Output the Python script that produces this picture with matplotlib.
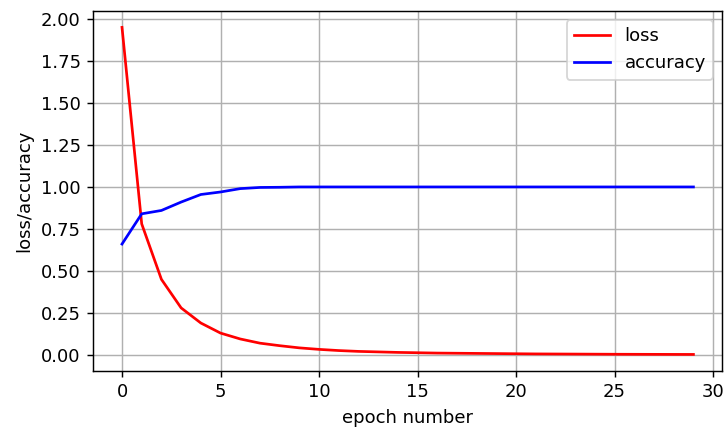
import numpy as np
import matplotlib.pyplot as plt

epochs = list(range(30))
loss = [1.95, 0.78, 0.45, 0.28, 0.19, 0.13, 0.095, 0.07, 0.055, 0.042,
        0.033, 0.026, 0.021, 0.018, 0.015, 0.013, 0.011, 0.010, 0.009, 0.008,
        0.007, 0.006, 0.0055, 0.005, 0.0045, 0.004, 0.0037, 0.0034, 0.0031, 0.0029]
accuracy = [0.66, 0.84, 0.86, 0.91, 0.955, 0.97, 0.99, 0.997, 0.998, 1.0,
            1.0, 1.0, 1.0, 1.0, 1.0, 1.0, 1.0, 1.0, 1.0, 1.0,
            1.0, 1.0, 1.0, 1.0, 1.0, 1.0, 1.0, 1.0, 1.0, 1.0]

# drawn at a higher dpi so text and lines come out a bit larger
fig = plt.figure(figsize=(7.26 / 1.3, 4.3 / 1.3), dpi=130)
ax = fig.add_axes([0.1287, 0.1377, 0.8658, 0.8367])
ax.plot(epochs, loss, color='red', label='loss')
ax.plot(epochs, accuracy, color='blue', label='accuracy')
ax.set_xlabel('epoch number')
ax.set_ylabel('loss/accuracy')
ax.set_xticks([0, 5, 10, 15, 20, 25, 30])
ax.grid(True)
ax.legend(loc='upper right')
fig.savefig('out.png')
